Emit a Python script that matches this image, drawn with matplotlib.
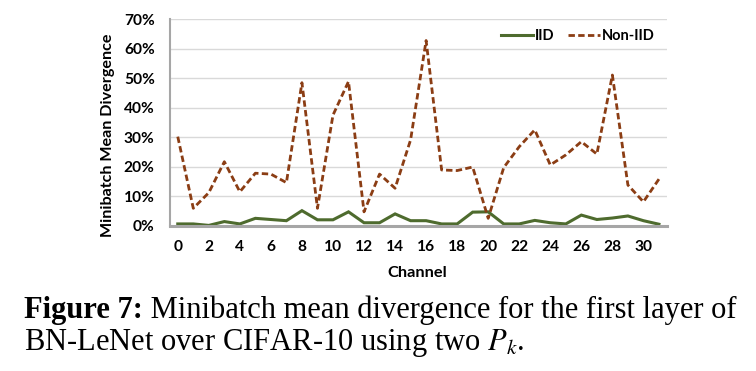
import matplotlib.pyplot as plt
import numpy as np

plt.rcParams['mathtext.fontset'] = 'stix'

# Data (percent)
channels = np.arange(32)
iid = [0.6, 0.6, 0.1, 1.4, 0.6, 2.5, 2.1, 1.7, 5.1, 2.0, 2.0, 4.7, 1.0, 1.0, 4.0, 1.7,
       1.7, 0.6, 0.6, 4.6, 4.7, 0.6, 0.6, 1.8, 1.0, 0.6, 3.6, 2.1, 2.6, 3.3, 1.7, 0.5]
non_iid = [30.2, 5.9, 11.2, 21.7, 11.5, 17.8, 17.5, 14.6, 48.5, 5.9, 37.5, 48.9, 4.7, 17.5, 12.7, 29.1,
           62.8, 18.9, 18.7, 19.9, 2.5, 19.7, 26.8, 32.5, 20.6, 24.0, 28.5, 24.3, 51.1, 13.8, 8.1, 15.8]
yticks = [0, 10, 20, 30, 40, 50, 60, 70]
xticks = list(range(0, 32, 2))

W, H = 756, 371
fig = plt.figure(figsize=(W / 100, H / 100), dpi=100)
ax = fig.add_axes([170 / W, 1 - 225.7 / H, 496.7 / W, 206.4 / H])

green = '#4e6b2e'
brown = '#8b3d14'
ax.plot(channels, iid, color=green, lw=2.2, label='IID', solid_joinstyle='miter')
nl, = ax.plot(channels, non_iid, color=brown, lw=2.0, label='Non-IID')
nl.set_dashes((2.3, 1.2))

ax.set_xlim(-0.5, 31.5)
ax.set_ylim(0, 70)
ax.set_yticks(yticks)
ax.set_yticklabels([f'{v}%' for v in yticks])
ax.set_xticks(xticks)
ax.yaxis.grid(True, color='#d9d9d9', lw=1.0)
ax.set_axisbelow(True)
ax.tick_params(length=0)
ax.tick_params(axis='y', pad=11)
ax.tick_params(axis='x', pad=10.5)
for lab in ax.get_xticklabels() + ax.get_yticklabels():
    lab.set_fontfamily('Lato')
    lab.set_fontweight('bold')
    lab.set_fontsize(11.2)

for s in ['top', 'right']:
    ax.spines[s].set_visible(False)
ax.spines['left'].set_color('#a6a6a6')
ax.spines['left'].set_linewidth(1.5)
ax.spines['bottom'].set_color('#a6a6a6')
ax.spines['bottom'].set_linewidth(2.2)

ax.legend(loc='center right', bbox_to_anchor=(1.002, 0.92), ncol=2, frameon=False,
          handlelength=2.2, handletextpad=0.15, columnspacing=0.9,
          prop={'family': 'Lato', 'weight': 'bold', 'size': 10.5})

fig.text(108 / W, 1 - 135 / H, 'Minibatch Mean Divergence', rotation=90, ha='center', va='center',
         family='Lato', weight='bold', fontsize=11.6)
fig.text(417.5 / W, 1 - 273 / H, 'Channel', ha='center', va='center',
         family='Lato', weight='bold', fontsize=11.8)

# caption
cap1 = fig.text(24 / W, 1 - 318 / H, 'Figure 7:', ha='left', va='baseline',
                family='Liberation Serif', weight='bold', fontsize=22)
ax.annotate(' Minibatch mean divergence for the first layer of', xy=(1, 0), xycoords=cap1,
            va='bottom', ha='left', family='Liberation Serif', fontsize=22,
            annotation_clip=False)
fig.text(24 / W, 1 - 350 / H, 'BN-LeNet over CIFAR-10 using two $P_k$.', ha='left', va='baseline',
         family='Liberation Serif', fontsize=22)

fig.savefig('out.png', dpi=100)
